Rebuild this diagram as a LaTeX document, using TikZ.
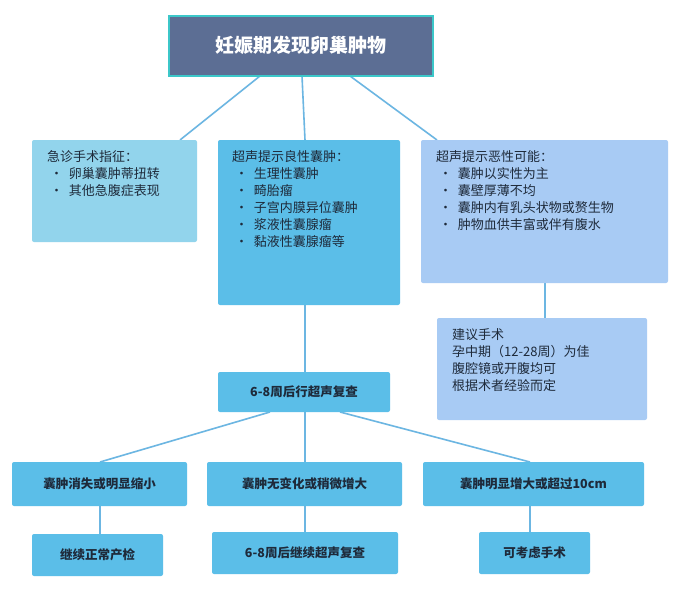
\documentclass[tikz,border=0pt]{standalone}
\usepackage{fontspec}
\setmainfont{Noto Sans CJK SC}
\begin{document}
\begin{tikzpicture}[x=1pt,y=-1pt,
  lnk/.style={draw=lineblue,line width=1.6pt},
  bx/.style={rounded corners=2pt,anchor=north west,inner sep=0pt,draw=none},
  txt/.style={anchor=north west,align=left,font=\fontsize{13}{17}\selectfont,text=textc,inner sep=0pt},
  lbl/.style={font=\bfseries\fontsize{12.5}{15}\selectfont,text=textc}]
\definecolor{lineblue}{HTML}{6CB6E2}
\definecolor{titlebg}{HTML}{5C6E94}
\definecolor{titlebd}{HTML}{3CC7C9}
\definecolor{cA}{HTML}{92D4EC}
\definecolor{cB}{HTML}{5BBEE8}
\definecolor{cC}{HTML}{A8CBF4}
\definecolor{textc}{HTML}{1E2A3A}
\useasboundingbox[fill=white] (0,0) rectangle (680,589);
% connectors first
\coordinate (t1) at (260,76); \coordinate (t2) at (302,76); \coordinate (t3) at (350,76);
\draw[lnk] (t1) -- (180,140);
\draw[lnk] (t2) -- (305,140);
\draw[lnk] (t3) -- (437,140);
\draw[lnk] (305,305) -- (305,372);
\draw[lnk] (545,283) -- (545,318);
\draw[lnk] (270,412) -- (100,462);
\draw[lnk] (305,412) -- (305,462);
\draw[lnk] (340,412) -- (530,462);
\draw[lnk] (100,506) -- (100,534);
\draw[lnk] (305,506) -- (305,532);
\draw[lnk] (530,506) -- (530,532);
% title
\node[draw=titlebd,line width=1.5pt,fill=titlebg,minimum width=264pt,minimum height=60pt,anchor=north west,text=white,font=\bfseries\fontsize{19}{22}\selectfont] (title) at (168,15) {妊娠期发现卵巢肿物};
% boxes
\fill[cA,rounded corners=2pt] (32,140) rectangle (197,242);
\node[txt] (b1) at (47,150) {急诊手术指征：\\\ \textbullet\ \ 卵巢囊肿蒂扭转\\\ \textbullet\ \ 其他急腹症表现};
\fill[cB,rounded corners=2pt] (218,140) rectangle (400,305);
\node[txt] (b2) at (232,150) {超声提示良性囊肿：\\\ \textbullet\ \ 生理性囊肿\\\ \textbullet\ \ 畸胎瘤\\\ \textbullet\ \ 子宫内膜异位囊肿\\\ \textbullet\ \ 浆液性囊腺瘤\\\ \textbullet\ \ 黏液性囊腺瘤等};
\fill[cC,rounded corners=2pt] (421,140) rectangle (668,283);
\node[txt] (b3) at (436,150) {超声提示恶性可能：\\\ \textbullet\ \ 囊肿以实性为主\\\ \textbullet\ \ 囊壁厚薄不均\\\ \textbullet\ \ 囊肿内有乳头状物或赘生物\\\ \textbullet\ \ 肿物血供丰富或伴有腹水};
\fill[cC,rounded corners=2pt] (437,318) rectangle (647,420);
\node[txt] (b4) at (452,328) {建议手术\\孕中期（12-28周）为佳\\腹腔镜或开腹均可\\根据术者经验而定};
\node[fill=cB,rounded corners=2pt,minimum width=172pt,minimum height=40pt,lbl] (m) at (304,392) {6-8周后行超声复查};
\node[fill=cB,rounded corners=2pt,minimum width=175pt,minimum height=44pt,lbl] (r1) at (99.5,484) {囊肿消失或明显缩小};
\node[fill=cB,rounded corners=2pt,minimum width=195pt,minimum height=44pt,lbl] (r2) at (304.5,484) {囊肿无变化或稍微增大};
\node[fill=cB,rounded corners=2pt,minimum width=221pt,minimum height=44pt,lbl] (r3) at (533.5,484) {囊肿明显增大或超过10cm};
\node[fill=cB,rounded corners=2pt,minimum width=131pt,minimum height=42pt,lbl] (d1) at (97.5,555) {继续正常产检};
\node[fill=cB,rounded corners=2pt,minimum width=186pt,minimum height=42pt,lbl] (d2) at (305,553) {6-8周后继续超声复查};
\node[fill=cB,rounded corners=2pt,minimum width=111pt,minimum height=42pt,lbl] (d3) at (534.5,553) {可考虑手术};
\end{tikzpicture}
\end{document}
